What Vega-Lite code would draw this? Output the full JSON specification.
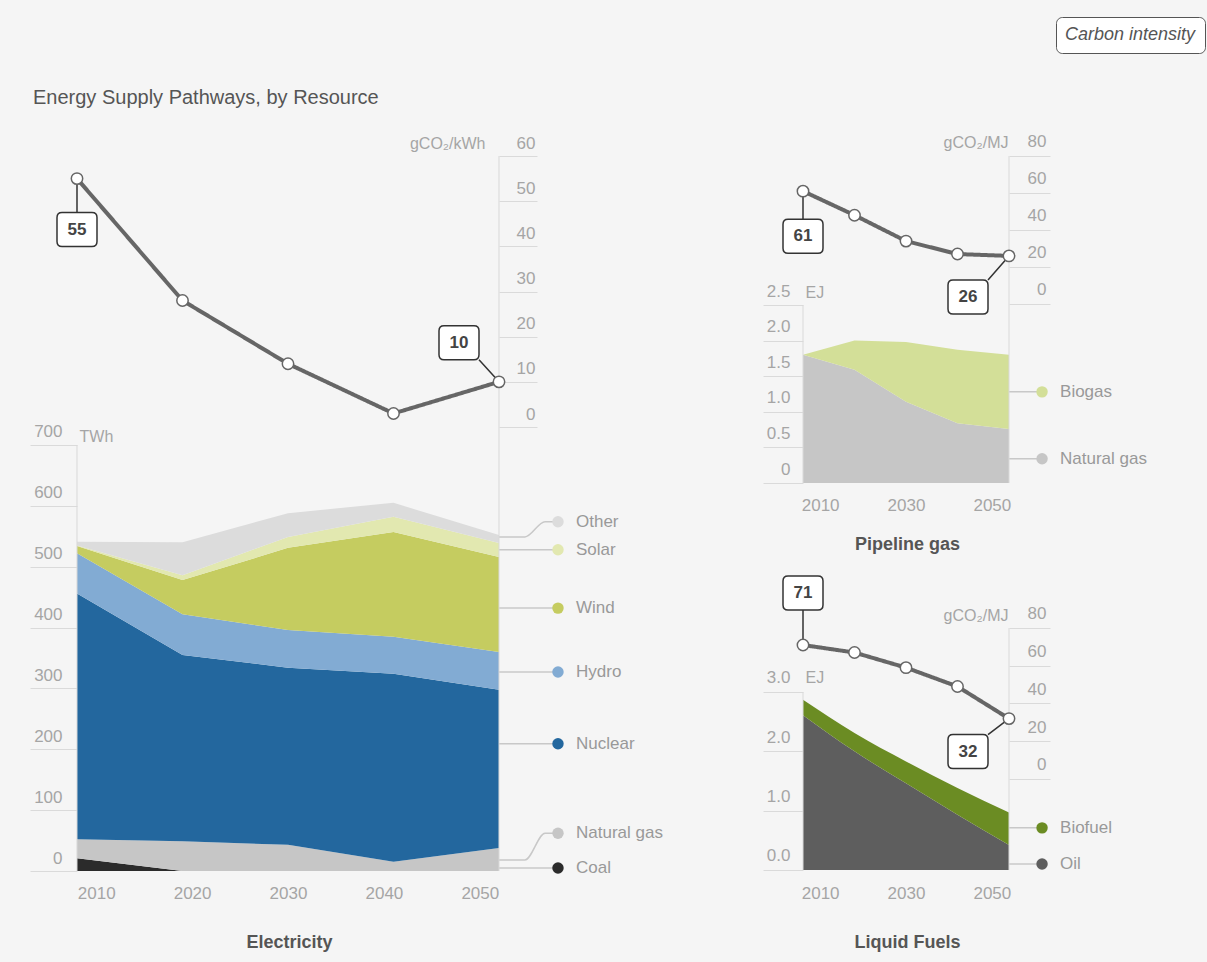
{
 "$schema": "https://vega.github.io/schema/vega-lite/v6.json",
 "width": 1207, "height": 962,
 "autosize": {"type": "none"},
 "padding": 0,
 "background": "#f5f5f5",
 "title": {"text": "Energy Supply Pathways, by Resource", "anchor": "start", "frame": "group", "offset": -124, "dx": 33, "font": "Liberation Sans", "fontSize": 20, "fontWeight": "normal", "color": "#555555", "baseline": "alphabetic"},
 "datasets": {
  "elec": [
   {"year":2008,"source":"Coal","o":1,"twh":21},{"year":2008,"source":"Natural gas","o":2,"twh":31},{"year":2008,"source":"Nuclear","o":3,"twh":404},{"year":2008,"source":"Hydro","o":4,"twh":66},{"year":2008,"source":"Wind","o":5,"twh":12},{"year":2008,"source":"Solar","o":6,"twh":1},{"year":2008,"source":"Other","o":7,"twh":6},
   {"year":2019,"source":"Coal","o":1,"twh":0},{"year":2019,"source":"Natural gas","o":2,"twh":49},{"year":2019,"source":"Nuclear","o":3,"twh":306},{"year":2019,"source":"Hydro","o":4,"twh":67},{"year":2019,"source":"Wind","o":5,"twh":56},{"year":2019,"source":"Solar","o":6,"twh":8},{"year":2019,"source":"Other","o":7,"twh":54},
   {"year":2030,"source":"Coal","o":1,"twh":0},{"year":2030,"source":"Natural gas","o":2,"twh":43},{"year":2030,"source":"Nuclear","o":3,"twh":291},{"year":2030,"source":"Hydro","o":4,"twh":62},{"year":2030,"source":"Wind","o":5,"twh":135},{"year":2030,"source":"Solar","o":6,"twh":18},{"year":2030,"source":"Other","o":7,"twh":39},
   {"year":2041,"source":"Coal","o":1,"twh":0},{"year":2041,"source":"Natural gas","o":2,"twh":15},{"year":2041,"source":"Nuclear","o":3,"twh":309},{"year":2041,"source":"Hydro","o":4,"twh":61},{"year":2041,"source":"Wind","o":5,"twh":172},{"year":2041,"source":"Solar","o":6,"twh":25},{"year":2041,"source":"Other","o":7,"twh":23},
   {"year":2052,"source":"Coal","o":1,"twh":0},{"year":2052,"source":"Natural gas","o":2,"twh":38},{"year":2052,"source":"Nuclear","o":3,"twh":260},{"year":2052,"source":"Hydro","o":4,"twh":62},{"year":2052,"source":"Wind","o":5,"twh":156},{"year":2052,"source":"Solar","o":6,"twh":23},{"year":2052,"source":"Other","o":7,"twh":13}
  ],
  "elecCI": [{"year":2008,"ci":55},{"year":2019,"ci":28},{"year":2030,"ci":14},{"year":2041,"ci":3},{"year":2052,"ci":10}],
  "elecKey": [{"source":"Other","at":574},{"source":"Solar","at":528},{"source":"Wind","at":432},{"source":"Hydro","at":327},{"source":"Nuclear","at":209},{"source":"Natural gas","at":62},{"source":"Coal","at":5}],
  "elecLink": [
   {"source":"Other","year":2052,"at":549},{"source":"Other","year":2054.7,"at":549},{"source":"Other","year":2056.8,"at":574},{"source":"Other","year":2058.15,"at":574},
   {"source":"Natural gas","year":2052,"at":18},{"source":"Natural gas","year":2054.7,"at":18},{"source":"Natural gas","year":2056.8,"at":62},{"source":"Natural gas","year":2058.15,"at":62}
  ],
  "gas": [
   {"year":2006,"source":"Natural gas","o":1,"ej":1.80},{"year":2018,"source":"Natural gas","o":1,"ej":1.59},{"year":2030,"source":"Natural gas","o":1,"ej":1.14},{"year":2042,"source":"Natural gas","o":1,"ej":0.84},{"year":2054,"source":"Natural gas","o":1,"ej":0.76},
   {"year":2006,"source":"Biogas","o":2,"ej":0},{"year":2018,"source":"Biogas","o":2,"ej":0.41},{"year":2030,"source":"Biogas","o":2,"ej":0.84},{"year":2042,"source":"Biogas","o":2,"ej":1.03},{"year":2054,"source":"Biogas","o":2,"ej":1.04}
  ],
  "gasCI": [{"year":2006,"ci":61},{"year":2018,"ci":48},{"year":2030,"ci":34},{"year":2042,"ci":27},{"year":2054,"ci":26}],
  "gasKey": [{"source":"Biogas","at":1.28},{"source":"Natural gas","at":0.34}],
  "liquid": [
   {"year":2006,"source":"Oil","o":1,"ej":2.61},{"year":2018,"source":"Oil","o":1,"ej":2.00},{"year":2030,"source":"Oil","o":1,"ej":1.46},{"year":2042,"source":"Oil","o":1,"ej":0.93},{"year":2054,"source":"Oil","o":1,"ej":0.42},
   {"year":2006,"source":"Biofuel","o":2,"ej":0.26},{"year":2018,"source":"Biofuel","o":2,"ej":0.31},{"year":2030,"source":"Biofuel","o":2,"ej":0.37},{"year":2042,"source":"Biofuel","o":2,"ej":0.45},{"year":2054,"source":"Biofuel","o":2,"ej":0.55}
  ],
  "liquidCI": [{"year":2006,"ci":71},{"year":2018,"ci":67},{"year":2030,"ci":59},{"year":2042,"ci":49},{"year":2054,"ci":32}],
  "liquidKey": [{"source":"Biofuel","at":0.71},{"source":"Oil","at":0.10}]
 },
 "resolve": {"scale": {"x": "independent", "y": "independent"}, "axis": {"x": "independent", "y": "independent"}},
 "layer": [
  {"data":{"name":"elec"},"mark":{"type":"area"},
   "encoding":{
    "x":{"field":"year","type":"quantitative","scale":{"domain":[1999.9716,2125.8199],"nice":false,"zero":false},
     "axis":{"orient":"bottom","offset":-91,"values":[2010,2020,2030,2040,2050],"format":"d","ticks":false,"labelPadding":14,"title":"Electricity","titleX":289,"titleY":71,"titleAlign":"center","titleBaseline":"middle","titleFontWeight":"bold","titleFontSize":18,"titleColor":"#555555"}},
    "y":{"field":"twh","type":"quantitative","stack":"zero","scale":{"domain":[-149.53,1431.22],"nice":false,"zero":false},
     "axis":{"orient":"left","offset":-77,"values":[0,100,200,300,400,500,600,700],"tickSize":47,"labelPadding":-32,"labelOffset":-13,"labelBaseline":"middle","title":"TWh","titleX":2,"titleY":436,"titleAngle":0,"titleAlign":"left","titleBaseline":"middle"}},
    "color":{"field":"source","type":"nominal","scale":{"domain":["Coal","Natural gas","Nuclear","Hydro","Wind","Solar","Other","Biogas","Biofuel","Oil"],"range":["#2b2b2b","#c6c6c6","#23679e","#82abd3","#c5cc60","#e2e8b0","#dcdcdc","#d3df98","#6b8c23","#5e5e5e"]},"legend":null},
    "order":{"field":"o","type":"quantitative"}}},
  {"data":{"values":[{}]},"mark":{"type":"rule","color":"#d9d9d9"},
   "encoding":{"x":{"datum":2008,"scale":{"domain":[1999.9716,2125.8199],"nice":false,"zero":false},"axis":null},"y":{"datum":0,"scale":{"domain":[-149.53,1431.22],"nice":false,"zero":false},"axis":null},"y2":{"datum":700}}},
  {"data":{"name":"elecKey"},"transform":[{"filter":"datum.source != 'Other' && datum.source != 'Natural gas'"}],"mark":{"type":"rule","color":"#c8c8c8","strokeWidth":1.5},
   "encoding":{"x":{"datum":2052,"scale":{"domain":[1999.9716,2125.8199],"nice":false,"zero":false},"axis":null},"x2":{"datum":2058.15},"y":{"field":"at","type":"quantitative","scale":{"domain":[-149.53,1431.22],"nice":false,"zero":false},"axis":null}}},
  {"data":{"name":"elecLink"},"mark":{"type":"line","color":"#c8c8c8","strokeWidth":1.5,"interpolate":"monotone"},
   "encoding":{"x":{"field":"year","type":"quantitative","scale":{"domain":[1999.9716,2125.8199],"nice":false,"zero":false},"axis":null},"y":{"field":"at","type":"quantitative","scale":{"domain":[-149.53,1431.22],"nice":false,"zero":false},"axis":null},"detail":{"field":"source"}}},
  {"data":{"name":"elecKey"},"mark":{"type":"point","filled":true,"size":130,"opacity":1},
   "encoding":{"x":{"datum":2058.15,"scale":{"domain":[1999.9716,2125.8199],"nice":false,"zero":false},"axis":null},"y":{"field":"at","type":"quantitative","scale":{"domain":[-149.53,1431.22],"nice":false,"zero":false},"axis":null},"color":{"field":"source","type":"nominal","legend":null}}},
  {"data":{"name":"elecKey"},"mark":{"type":"text","align":"left","baseline":"middle","dx":18,"fontSize":17,"color":"#999999"},
   "encoding":{"x":{"datum":2058.15,"scale":{"domain":[1999.9716,2125.8199],"nice":false,"zero":false},"axis":null},"y":{"field":"at","type":"quantitative","scale":{"domain":[-149.53,1431.22],"nice":false,"zero":false},"axis":null},"text":{"field":"source"}}},

  {"data":{"values":[{}]},"mark":{"type":"rule","color":"#d9d9d9"},
   "encoding":{"x":{"datum":2052,"scale":{"domain":[1999.9716,2125.8199],"nice":false,"zero":false},"axis":null},"y":{"datum":60,"scale":{"domain":[-118.45,94.54],"nice":false,"zero":false},"axis":null},"y2":{"datum":-98.3}}},
  {"data":{"name":"elecCI"},"mark":{"type":"line","color":"#666666","strokeWidth":4},
   "encoding":{"x":{"field":"year","type":"quantitative","scale":{"domain":[1999.9716,2125.8199],"nice":false,"zero":false},"axis":null},
    "y":{"field":"ci","type":"quantitative","scale":{"domain":[-118.45,94.54],"nice":false,"zero":false},
     "axis":{"orient":"right","offset":-708,"values":[0,10,20,30,40,50,60],"tickSize":38,"labelAlign":"right","labelPadding":-2,"labelOffset":-13,"labelBaseline":"middle","title":"gCO₂/kWh","titleX":-14,"titleY":143,"titleAngle":0,"titleAlign":"right","titleBaseline":"middle"}},
    "strokeDash":{"datum":"Carbon intensity","type":"nominal","scale":{"domain":["Carbon intensity"],"range":[[1,0]]},
     "legend":{"orient":"none","legendX":1056,"legendY":17,"title":null,"padding":9,"fillColor":"#ffffff","strokeColor":"#555555","cornerRadius":6,"symbolType":"circle","symbolSize":0,"symbolStrokeWidth":0,"symbolOpacity":0,"labelOffset":-18,"labelFont":"Liberation Sans","labelFontStyle":"italic","labelFontSize":18,"labelColor":"#555555"}}}},
  {"data":{"name":"elecCI"},"transform":[{"filter":"datum.year == 2008"}],"mark":{"type":"point","shape":"M0 0L0 34M-15 34L15 34Q20 34 20 39L20 63Q20 68 15 68L-15 68Q-20 68 -20 63L-20 39Q-20 34 -15 34Z","size":4,"filled":true,"fill":"#ffffff","stroke":"#333333","strokeWidth":1.5,"opacity":1},
   "encoding":{"x":{"field":"year","type":"quantitative","scale":{"domain":[1999.9716,2125.8199],"nice":false,"zero":false},"axis":null},"y":{"field":"ci","type":"quantitative","scale":{"domain":[-118.45,94.54],"nice":false,"zero":false},"axis":null}}},
  {"data":{"name":"elecCI"},"transform":[{"filter":"datum.year == 2052"}],"mark":{"type":"point","shape":"M0 0L-20 -22M-55 -56L-25 -56Q-20 -56 -20 -51L-20 -27Q-20 -22 -25 -22L-55 -22Q-60 -22 -60 -27L-60 -51Q-60 -56 -55 -56Z","size":4,"filled":true,"fill":"#ffffff","stroke":"#333333","strokeWidth":1.5,"opacity":1},
   "encoding":{"x":{"field":"year","type":"quantitative","scale":{"domain":[1999.9716,2125.8199],"nice":false,"zero":false},"axis":null},"y":{"field":"ci","type":"quantitative","scale":{"domain":[-118.45,94.54],"nice":false,"zero":false},"axis":null}}},
  {"data":{"name":"elecCI"},"mark":{"type":"point","shape":"circle","size":130,"filled":true,"fill":"#ffffff","stroke":"#666666","strokeWidth":1.5,"opacity":1},
   "encoding":{"x":{"field":"year","type":"quantitative","scale":{"domain":[1999.9716,2125.8199],"nice":false,"zero":false},"axis":null},"y":{"field":"ci","type":"quantitative","scale":{"domain":[-118.45,94.54],"nice":false,"zero":false},"axis":null}}},
  {"data":{"name":"elecCI"},"transform":[{"filter":"datum.year == 2008"}],"mark":{"type":"text","dy":51,"fontSize":17,"fontWeight":"bold","color":"#444444"},
   "encoding":{"x":{"field":"year","type":"quantitative","scale":{"domain":[1999.9716,2125.8199],"nice":false,"zero":false},"axis":null},"y":{"field":"ci","type":"quantitative","scale":{"domain":[-118.45,94.54],"nice":false,"zero":false},"axis":null},"text":{"field":"ci","type":"quantitative"}}},
  {"data":{"name":"elecCI"},"transform":[{"filter":"datum.year == 2052"}],"mark":{"type":"text","dx":-40,"dy":-39,"fontSize":17,"fontWeight":"bold","color":"#444444"},
   "encoding":{"x":{"field":"year","type":"quantitative","scale":{"domain":[1999.9716,2125.8199],"nice":false,"zero":false},"axis":null},"y":{"field":"ci","type":"quantitative","scale":{"domain":[-118.45,94.54],"nice":false,"zero":false},"axis":null},"text":{"field":"ci","type":"quantitative"}}},

  {"data":{"name":"gas"},"mark":{"type":"area"},
   "encoding":{
    "x":{"field":"year","type":"quantitative","scale":{"domain":[1818.8932,2100.1359],"nice":false,"zero":false},
     "axis":{"orient":"bottom","offset":-479,"values":[2010,2030,2050],"format":"d","ticks":false,"labelPadding":14,"title":"Pipeline gas","titleX":907,"titleY":61,"titleAlign":"center","titleBaseline":"middle","titleFontWeight":"bold","titleFontSize":18,"titleColor":"#555555"}},
    "y":{"field":"ej","type":"quantitative","stack":"zero","scale":{"domain":[-6.7275,6.7837],"nice":false,"zero":false},
     "axis":{"orient":"left","offset":-803,"values":[0,0.5,1,1.5,2,2.5],"labelExpr":"datum.value == 0 ? '0' : format(datum.value, '.1f')","tickSize":40,"labelPadding":-27,"labelOffset":-14,"labelBaseline":"middle","title":"EJ","titleX":2,"titleY":292,"titleAngle":0,"titleAlign":"left","titleBaseline":"middle"}},
    "color":{"field":"source","type":"nominal","legend":null},
    "order":{"field":"o","type":"quantitative"}}},
  {"data":{"values":[{}]},"mark":{"type":"rule","color":"#d9d9d9"},
   "encoding":{"x":{"datum":2006,"scale":{"domain":[1818.8932,2100.1359],"nice":false,"zero":false},"axis":null},"y":{"datum":0,"scale":{"domain":[-6.7275,6.7837],"nice":false,"zero":false},"axis":null},"y2":{"datum":2.5}}},
  {"data":{"name":"gasKey"},"mark":{"type":"rule","color":"#c8c8c8","strokeWidth":1.5},
   "encoding":{"x":{"datum":2054,"scale":{"domain":[1818.8932,2100.1359],"nice":false,"zero":false},"axis":null},"x2":{"datum":2061.7},"y":{"field":"at","type":"quantitative","scale":{"domain":[-6.7275,6.7837],"nice":false,"zero":false},"axis":null}}},
  {"data":{"name":"gasKey"},"mark":{"type":"point","filled":true,"size":130,"opacity":1},
   "encoding":{"x":{"datum":2061.7,"scale":{"domain":[1818.8932,2100.1359],"nice":false,"zero":false},"axis":null},"y":{"field":"at","type":"quantitative","scale":{"domain":[-6.7275,6.7837],"nice":false,"zero":false},"axis":null},"color":{"field":"source","type":"nominal","legend":null}}},
  {"data":{"name":"gasKey"},"mark":{"type":"text","align":"left","baseline":"middle","dx":18,"fontSize":17,"color":"#999999"},
   "encoding":{"x":{"datum":2061.7,"scale":{"domain":[1818.8932,2100.1359],"nice":false,"zero":false},"axis":null},"y":{"field":"at","type":"quantitative","scale":{"domain":[-6.7275,6.7837],"nice":false,"zero":false},"axis":null},"text":{"field":"source"}}},

  {"data":{"values":[{}]},"mark":{"type":"rule","color":"#d9d9d9"},
   "encoding":{"x":{"datum":2054,"scale":{"domain":[1818.8932,2100.1359],"nice":false,"zero":false},"axis":null},"y":{"datum":80,"scale":{"domain":[-355.68,164.32],"nice":false,"zero":false},"axis":null},"y2":{"datum":-96.76}}},
  {"data":{"name":"gasCI"},"mark":{"type":"line","color":"#666666","strokeWidth":4},
   "encoding":{"x":{"field":"year","type":"quantitative","scale":{"domain":[1818.8932,2100.1359],"nice":false,"zero":false},"axis":null},
    "y":{"field":"ci","type":"quantitative","scale":{"domain":[-355.68,164.32],"nice":false,"zero":false},
     "axis":{"orient":"right","offset":-198,"values":[0,20,40,60,80],"tickSize":41,"labelAlign":"right","labelPadding":-4,"labelOffset":-14,"labelBaseline":"middle","title":"gCO₂/MJ","titleX":-1,"titleY":142,"titleAngle":0,"titleAlign":"right","titleBaseline":"middle"}},
    "strokeDash":{"datum":"Carbon intensity","type":"nominal","scale":{"domain":["Carbon intensity"],"range":[[1,0]]},
     "legend":{"orient":"none","legendX":1056,"legendY":17,"title":null,"padding":9,"fillColor":"#ffffff","strokeColor":"#555555","cornerRadius":6,"symbolType":"circle","symbolSize":0,"symbolStrokeWidth":0,"symbolOpacity":0,"labelOffset":-18,"labelFont":"Liberation Sans","labelFontStyle":"italic","labelFontSize":18,"labelColor":"#555555"}}}},
  {"data":{"name":"gasCI"},"transform":[{"filter":"datum.year == 2006"}],"mark":{"type":"point","shape":"M0 0L0 28M-15 28L15 28Q20 28 20 33L20 57Q20 62 15 62L-15 62Q-20 62 -20 57L-20 33Q-20 28 -15 28Z","size":4,"filled":true,"fill":"#ffffff","stroke":"#333333","strokeWidth":1.5,"opacity":1},
   "encoding":{"x":{"field":"year","type":"quantitative","scale":{"domain":[1818.8932,2100.1359],"nice":false,"zero":false},"axis":null},"y":{"field":"ci","type":"quantitative","scale":{"domain":[-355.68,164.32],"nice":false,"zero":false},"axis":null}}},
  {"data":{"name":"gasCI"},"transform":[{"filter":"datum.year == 2054"}],"mark":{"type":"point","shape":"M0 0L-21 24M-56 24L-26 24Q-21 24 -21 29L-21 53Q-21 58 -26 58L-56 58Q-61 58 -61 53L-61 29Q-61 24 -56 24Z","size":4,"filled":true,"fill":"#ffffff","stroke":"#333333","strokeWidth":1.5,"opacity":1},
   "encoding":{"x":{"field":"year","type":"quantitative","scale":{"domain":[1818.8932,2100.1359],"nice":false,"zero":false},"axis":null},"y":{"field":"ci","type":"quantitative","scale":{"domain":[-355.68,164.32],"nice":false,"zero":false},"axis":null}}},
  {"data":{"name":"gasCI"},"mark":{"type":"point","shape":"circle","size":130,"filled":true,"fill":"#ffffff","stroke":"#666666","strokeWidth":1.5,"opacity":1},
   "encoding":{"x":{"field":"year","type":"quantitative","scale":{"domain":[1818.8932,2100.1359],"nice":false,"zero":false},"axis":null},"y":{"field":"ci","type":"quantitative","scale":{"domain":[-355.68,164.32],"nice":false,"zero":false},"axis":null}}},
  {"data":{"name":"gasCI"},"transform":[{"filter":"datum.year == 2006"}],"mark":{"type":"text","dy":45,"fontSize":17,"fontWeight":"bold","color":"#444444"},
   "encoding":{"x":{"field":"year","type":"quantitative","scale":{"domain":[1818.8932,2100.1359],"nice":false,"zero":false},"axis":null},"y":{"field":"ci","type":"quantitative","scale":{"domain":[-355.68,164.32],"nice":false,"zero":false},"axis":null},"text":{"field":"ci","type":"quantitative"}}},
  {"data":{"name":"gasCI"},"transform":[{"filter":"datum.year == 2054"}],"mark":{"type":"text","dx":-41,"dy":41,"fontSize":17,"fontWeight":"bold","color":"#444444"},
   "encoding":{"x":{"field":"year","type":"quantitative","scale":{"domain":[1818.8932,2100.1359],"nice":false,"zero":false},"axis":null},"y":{"field":"ci","type":"quantitative","scale":{"domain":[-355.68,164.32],"nice":false,"zero":false},"axis":null},"text":{"field":"ci","type":"quantitative"}}},

  {"data":{"name":"liquid"},"mark":{"type":"area","interpolate":"monotone"},
   "encoding":{
    "x":{"field":"year","type":"quantitative","scale":{"domain":[1818.8932,2100.1359],"nice":false,"zero":false},
     "axis":{"orient":"bottom","offset":-92,"values":[2010,2030,2050],"format":"d","ticks":false,"labelPadding":15,"title":"Liquid Fuels","titleX":907,"titleY":72,"titleAlign":"center","titleBaseline":"middle","titleFontWeight":"bold","titleFontSize":18,"titleColor":"#555555"}},
    "y":{"field":"ej","type":"quantitative","stack":"zero","scale":{"domain":[-1.5506,14.6629],"nice":false,"zero":false},
     "axis":{"orient":"left","offset":-803,"values":[0,1,2,3],"format":".1f","tickSize":40,"labelPadding":-27,"labelOffset":-14,"labelBaseline":"middle","title":"EJ","titleX":2,"titleY":677,"titleAngle":0,"titleAlign":"left","titleBaseline":"middle"}},
    "color":{"field":"source","type":"nominal","legend":null},
    "order":{"field":"o","type":"quantitative"}}},
  {"data":{"values":[{}]},"mark":{"type":"rule","color":"#d9d9d9"},
   "encoding":{"x":{"datum":2006,"scale":{"domain":[1818.8932,2100.1359],"nice":false,"zero":false},"axis":null},"y":{"datum":0,"scale":{"domain":[-1.5506,14.6629],"nice":false,"zero":false},"axis":null},"y2":{"datum":3}}},
  {"data":{"name":"liquidKey"},"mark":{"type":"rule","color":"#c8c8c8","strokeWidth":1.5},
   "encoding":{"x":{"datum":2054,"scale":{"domain":[1818.8932,2100.1359],"nice":false,"zero":false},"axis":null},"x2":{"datum":2061.7},"y":{"field":"at","type":"quantitative","scale":{"domain":[-1.5506,14.6629],"nice":false,"zero":false},"axis":null}}},
  {"data":{"name":"liquidKey"},"mark":{"type":"point","filled":true,"size":130,"opacity":1},
   "encoding":{"x":{"datum":2061.7,"scale":{"domain":[1818.8932,2100.1359],"nice":false,"zero":false},"axis":null},"y":{"field":"at","type":"quantitative","scale":{"domain":[-1.5506,14.6629],"nice":false,"zero":false},"axis":null},"color":{"field":"source","type":"nominal","legend":null}}},
  {"data":{"name":"liquidKey"},"mark":{"type":"text","align":"left","baseline":"middle","dx":18,"fontSize":17,"color":"#999999"},
   "encoding":{"x":{"datum":2061.7,"scale":{"domain":[1818.8932,2100.1359],"nice":false,"zero":false},"axis":null},"y":{"field":"at","type":"quantitative","scale":{"domain":[-1.5506,14.6629],"nice":false,"zero":false},"axis":null},"text":{"field":"source"}}},

  {"data":{"values":[{}]},"mark":{"type":"rule","color":"#d9d9d9"},
   "encoding":{"x":{"datum":2054,"scale":{"domain":[1818.8932,2100.1359],"nice":false,"zero":false},"axis":null},"y":{"datum":80,"scale":{"domain":[-96.954,412.715],"nice":false,"zero":false},"axis":null},"y2":{"datum":-48.21}}},
  {"data":{"name":"liquidCI"},"mark":{"type":"line","color":"#666666","strokeWidth":4},
   "encoding":{"x":{"field":"year","type":"quantitative","scale":{"domain":[1818.8932,2100.1359],"nice":false,"zero":false},"axis":null},
    "y":{"field":"ci","type":"quantitative","scale":{"domain":[-96.954,412.715],"nice":false,"zero":false},
     "axis":{"orient":"right","offset":-198,"values":[0,20,40,60,80],"tickSize":41,"labelAlign":"right","labelPadding":-4,"labelOffset":-14,"labelBaseline":"middle","title":"gCO₂/MJ","titleX":-1,"titleY":615,"titleAngle":0,"titleAlign":"right","titleBaseline":"middle"}},
    "strokeDash":{"datum":"Carbon intensity","type":"nominal","scale":{"domain":["Carbon intensity"],"range":[[1,0]]},
     "legend":{"orient":"none","legendX":1056,"legendY":17,"title":null,"padding":9,"fillColor":"#ffffff","strokeColor":"#555555","cornerRadius":6,"symbolType":"circle","symbolSize":0,"symbolStrokeWidth":0,"symbolOpacity":0,"labelOffset":-18,"labelFont":"Liberation Sans","labelFontStyle":"italic","labelFontSize":18,"labelColor":"#555555"}}}},
  {"data":{"name":"liquidCI"},"transform":[{"filter":"datum.year == 2006"}],"mark":{"type":"point","shape":"M0 0L0 -35M-15 -69L15 -69Q20 -69 20 -64L20 -40Q20 -35 15 -35L-15 -35Q-20 -35 -20 -40L-20 -64Q-20 -69 -15 -69Z","size":4,"filled":true,"fill":"#ffffff","stroke":"#333333","strokeWidth":1.5,"opacity":1},
   "encoding":{"x":{"field":"year","type":"quantitative","scale":{"domain":[1818.8932,2100.1359],"nice":false,"zero":false},"axis":null},"y":{"field":"ci","type":"quantitative","scale":{"domain":[-96.954,412.715],"nice":false,"zero":false},"axis":null}}},
  {"data":{"name":"liquidCI"},"transform":[{"filter":"datum.year == 2054"}],"mark":{"type":"point","shape":"M0 0L-21 16M-56 16L-26 16Q-21 16 -21 21L-21 45Q-21 50 -26 50L-56 50Q-61 50 -61 45L-61 21Q-61 16 -56 16Z","size":4,"filled":true,"fill":"#ffffff","stroke":"#333333","strokeWidth":1.5,"opacity":1},
   "encoding":{"x":{"field":"year","type":"quantitative","scale":{"domain":[1818.8932,2100.1359],"nice":false,"zero":false},"axis":null},"y":{"field":"ci","type":"quantitative","scale":{"domain":[-96.954,412.715],"nice":false,"zero":false},"axis":null}}},
  {"data":{"name":"liquidCI"},"mark":{"type":"point","shape":"circle","size":130,"filled":true,"fill":"#ffffff","stroke":"#666666","strokeWidth":1.5,"opacity":1},
   "encoding":{"x":{"field":"year","type":"quantitative","scale":{"domain":[1818.8932,2100.1359],"nice":false,"zero":false},"axis":null},"y":{"field":"ci","type":"quantitative","scale":{"domain":[-96.954,412.715],"nice":false,"zero":false},"axis":null}}},
  {"data":{"name":"liquidCI"},"transform":[{"filter":"datum.year == 2006"}],"mark":{"type":"text","dy":-52,"fontSize":17,"fontWeight":"bold","color":"#444444"},
   "encoding":{"x":{"field":"year","type":"quantitative","scale":{"domain":[1818.8932,2100.1359],"nice":false,"zero":false},"axis":null},"y":{"field":"ci","type":"quantitative","scale":{"domain":[-96.954,412.715],"nice":false,"zero":false},"axis":null},"text":{"field":"ci","type":"quantitative"}}},
  {"data":{"name":"liquidCI"},"transform":[{"filter":"datum.year == 2054"}],"mark":{"type":"text","dx":-41,"dy":33,"fontSize":17,"fontWeight":"bold","color":"#444444"},
   "encoding":{"x":{"field":"year","type":"quantitative","scale":{"domain":[1818.8932,2100.1359],"nice":false,"zero":false},"axis":null},"y":{"field":"ci","type":"quantitative","scale":{"domain":[-96.954,412.715],"nice":false,"zero":false},"axis":null},"text":{"field":"ci","type":"quantitative"}}}
 ],
 "config": {
  "view": {"stroke": null},
  "font": "Liberation Sans",
  "axis": {"grid": false, "domain": false, "labelFont": "Liberation Sans", "labelFontSize": 17, "labelColor": "#a5a5a5", "tickColor": "#dadada", "tickWidth": 1, "titleFont": "Liberation Sans", "titleFontSize": 16, "titleFontWeight": "normal", "titleColor": "#a5a5a5", "labelFlush": false, "labelOverlap": false, "labelBound": false},
  "text": {"font": "Liberation Sans"}
 }
}
